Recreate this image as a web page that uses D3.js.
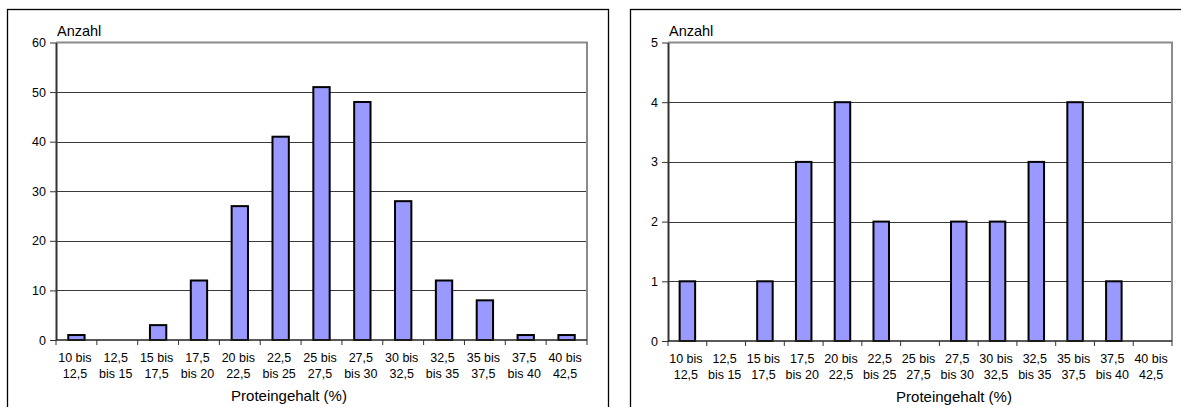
<!DOCTYPE html>
<html>
<head>
<meta charset="utf-8">
<script src="https://cdn.jsdelivr.net/npm/d3@7"></script>
<style>
  html, body { margin: 0; padding: 0; background: #fff; }
  svg { display: block; }
  text { font-family: "Liberation Sans", Arial, sans-serif; fill: #000; }
</style>
</head>
<body>
<svg id="chart" width="1181" height="407"></svg>
<script>
// Protein content classes (two-line labels)
const categories = [
  ["10 bis", "12,5"], ["12,5", "bis 15"], ["15 bis", "17,5"], ["17,5", "bis 20"],
  ["20 bis", "22,5"], ["22,5", "bis 25"], ["25 bis", "27,5"], ["27,5", "bis 30"],
  ["30 bis", "32,5"], ["32,5", "bis 35"], ["35 bis", "37,5"], ["37,5", "bis 40"],
  ["40 bis", "42,5"]
];
// Counts per class
const countsLeft  = [1, 0, 3, 12, 27, 41, 51, 48, 28, 12, 8, 1, 1];
const countsRight = [1, 0, 1, 3, 4, 2, 0, 2, 2, 3, 4, 1, 0];
const ticksLeft  = [0, 10, 20, 30, 40, 50, 60];
const ticksRight = [0, 1, 2, 3, 4, 5];
const yTitle = "Anzahl";
const xTitle = "Proteingehalt (%)";

const svg = d3.select("#chart");
const FONT = "Liberation Sans, Arial, sans-serif";

function drawPanel(cfg) {
  const g = svg.append("g");

  // outer chart frame (bottom/right may run off the canvas)
  g.append("rect")
    .attr("x", cfg.frame[0]).attr("y", cfg.frame[1])
    .attr("width", cfg.frame[2]).attr("height", cfg.frame[3])
    .attr("fill", "none").attr("stroke", "#000").attr("stroke-width", 1.3);

  const x = d3.scaleBand()
    .domain(d3.range(categories.length))
    .range([cfg.left, cfg.right])
    .paddingInner(0.6).paddingOuter(0.3);
  const xCell = d3.scaleBand()
    .domain(d3.range(categories.length))
    .range([cfg.left, cfg.right]);
  const y = d3.scaleLinear()
    .domain([0, cfg.ticks[cfg.ticks.length - 1]])
    .range([cfg.bottom, cfg.top]);

  // gridlines
  g.append("g").selectAll("line")
    .data(cfg.ticks.slice(1, -1))
    .join("line")
    .attr("x1", cfg.left).attr("x2", cfg.right)
    .attr("y1", d => Math.round(y(d)) + 0.5).attr("y2", d => Math.round(y(d)) + 0.5)
    .attr("stroke", "#3a3a3a").attr("stroke-width", 1);

  // plot area border (top and right in grey)
  g.append("path")
    .attr("d", `M${cfg.left},${y(cfg.ticks[cfg.ticks.length - 1])}H${cfg.right}V${cfg.bottom}`)
    .attr("fill", "none").attr("stroke", "#8c8c8c").attr("stroke-width", 2);

  // bars
  g.append("g").selectAll("rect")
    .data(cfg.values)
    .join("rect")
    .attr("x", (d, i) => x(i))
    .attr("width", x.bandwidth())
    .attr("y", d => y(d))
    .attr("height", d => cfg.bottom - y(d))
    .attr("fill", "#9999ff")
    .attr("stroke", "#000").attr("stroke-width", 2);

  // y axis
  const yAxis = d3.axisLeft(y).tickValues(cfg.ticks).tickFormat(d3.format("d"))
    .tickSize(6).tickSizeOuter(0).tickPadding(4);
  const ya = g.append("g").attr("transform", `translate(${cfg.left},0)`).call(yAxis);
  ya.select(".domain").attr("stroke", "#333").attr("stroke-width", 2);
  ya.selectAll(".tick line").attr("stroke", "#333");
  ya.selectAll(".tick text").style("font-size", "12.5px").style("font-family", FONT).attr("fill", "#000");

  // x axis: ticks between categories
  const xa = g.append("g").attr("transform", `translate(0,${cfg.bottom})`);
  xa.append("line")
    .attr("x1", cfg.left).attr("x2", cfg.right)
    .attr("stroke", "#222").attr("stroke-width", 1.5);
  xa.selectAll("line.tk")
    .data(d3.range(categories.length + 1))
    .join("line").attr("class", "tk")
    .attr("x1", i => i < categories.length ? xCell(i) : cfg.right)
    .attr("x2", i => i < categories.length ? xCell(i) : cfg.right)
    .attr("y1", 0).attr("y2", 5)
    .attr("stroke", "#333").attr("stroke-width", 1);
  const lab = xa.selectAll("text.cat")
    .data(categories)
    .join("text").attr("class", "cat")
    .attr("text-anchor", "middle")
    .style("font-size", "12.5px");
  lab.each(function(d, i) {
    const cx = xCell(i) + xCell.bandwidth() / 2 - 1.5;
    d3.select(this).selectAll("tspan")
      .data(d).join("tspan")
      .attr("x", cx)
      .attr("y", (t, k) => 22 + k * 16)
      .text(t => t);
  });

  // titles
  g.append("text")
    .attr("x", cfg.left + 1).attr("y", cfg.top - 7)
    .style("font-size", "14.5px")
    .text(yTitle);
  g.append("text")
    .attr("x", cfg.xTitleX).attr("y", cfg.bottom + 61)
    .attr("text-anchor", "middle")
    .style("font-size", "15px")
    .text(xTitle);
}

drawPanel({
  frame: [7.5, 9.5, 601, 420],
  left: 56, right: 587, top: 42.5, bottom: 340,
  ticks: ticksLeft, values: countsLeft, xTitleX: 289
});
drawPanel({
  frame: [630.5, 9.5, 640, 420],
  left: 668, right: 1172, top: 42.5, bottom: 341,
  ticks: ticksRight, values: countsRight, xTitleX: 954
});
</script>
</body>
</html>
